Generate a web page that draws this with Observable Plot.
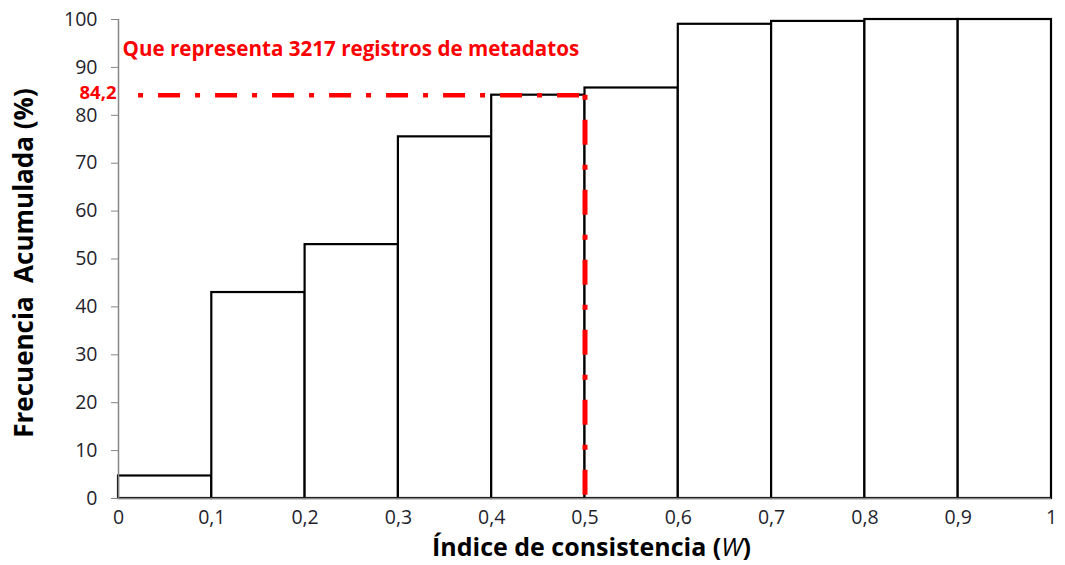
<!DOCTYPE html>
<html>
<head>
<meta charset="utf-8">
<script src="https://cdn.jsdelivr.net/npm/d3@7"></script>
<script src="https://cdn.jsdelivr.net/npm/@observablehq/plot@0.6"></script>
<style>
  html, body { margin: 0; padding: 0; background: #fff; }
  #chart svg { display: block; font-family: "Open Sans", Lato, sans-serif; }
  #chart svg text { white-space: pre; }
</style>
</head>
<body>
<div id="chart"></div>
<script>
// Data
const binStarts = [0, 0.1, 0.2, 0.3, 0.4, 0.5, 0.6, 0.7, 0.8, 0.9];
const binEnds   = [0.1, 0.2, 0.3, 0.4, 0.5, 0.6, 0.7, 0.8, 0.9, 1.0];
const cumFreq   = [4.7, 43.0, 53.0, 75.5, 84.2, 85.7, 99.0, 99.6, 100, 100];
const yTicks = [0, 10, 20, 30, 40, 50, 60, 70, 80, 90, 100];
const xTicks = [0, 0.1, 0.2, 0.3, 0.4, 0.5, 0.6, 0.7, 0.8, 0.9, 1];
const refW = 0.5;          // threshold on W
const refValue = 84.2;     // cumulative % at threshold
const refLineStart = 0.0215;
const refLabel = "84,2";
const annotation = "Que representa 3217 registros de metadatos";
const yLabel = "Frecuencia\u00a0 Acumulada (%)";
const xLabelMain = "Índice de consistencia (";
const xLabelItalic = "W";
const xLabelEnd = ")";

const bins = binStarts.map((x0, i) => ({x0, x1: binEnds[i], value: cumFreq[i]}));
const fmt = d => String(d).replace(".", ",");
const axisGray = "#868686";
const tickColor = "#1f1f2e";
const red = "#ff0000";
const font = "'Open Sans', Lato, sans-serif";

const chart = Plot.plot({
  width: 1065,
  height: 565,
  marginTop: 19,
  marginBottom: 67,
  marginLeft: 118,
  marginRight: 14,
  x: {domain: [0, 1]},
  y: {domain: [0, 100]},
  style: {fontFamily: font, background: "white"},
  marks: [
    Plot.rectY(bins, {x1: "x0", x2: "x1", y: "value", fill: "white", stroke: "black", strokeWidth: 2.2}),
    Plot.ruleY([refValue], {x1: refLineStart, x2: refW, stroke: red, strokeWidth: 4.5, strokeDasharray: "5,15,22,15"}),
    Plot.ruleX([refW], {y1: refValue, y2: 0, stroke: red, strokeWidth: 5, strokeDasharray: "5,20,25,20"}),
    Plot.ruleY([0], {stroke: axisGray, strokeWidth: 1.5}),
    Plot.ruleX([0], {stroke: axisGray, strokeWidth: 1.5}),
    Plot.axisY({ticks: yTicks, tickSize: 7, tickPadding: 14, tickFormat: fmt, label: null,
      stroke: axisGray, fill: tickColor, fontSize: 19.5}),
    Plot.axisX({ticks: xTicks, tickSize: 0, tickPadding: 12, tickFormat: fmt, label: null,
      fill: tickColor, fontSize: 19.5}),
    Plot.text([refLabel], {x: 0, y: refValue, dx: -2, dy: -2.5, textAnchor: "end", fill: red,
      fontWeight: "bold", fontSize: 18.5}),
    Plot.text([annotation], {x: 0, y: 94, dx: 4, dy: 1, textAnchor: "start", fill: red,
      fontWeight: "bold", fontSize: 20.6}),
    Plot.text([yLabel], {frameAnchor: "left", dx: -94, dy: 4, rotate: -90, textAnchor: "middle",
      fill: "black", fontWeight: "bold", fontSize: 26})
  ]
});

const svg = d3.select(chart);
const xs = chart.scale("x");
const t = svg.append("text")
  .attr("x", xs.apply(0.5) + 7)
  .attr("y", 556)
  .attr("text-anchor", "middle")
  .attr("font-size", 25)
  .attr("font-weight", "bold")
  .attr("font-family", font)
  .attr("fill", "black");
t.append("tspan").text(xLabelMain);
t.append("tspan").attr("font-style", "italic").attr("font-weight", "normal").text(xLabelItalic);
t.append("tspan").text(xLabelEnd);

document.getElementById("chart").appendChild(chart);
</script>
</body>
</html>
